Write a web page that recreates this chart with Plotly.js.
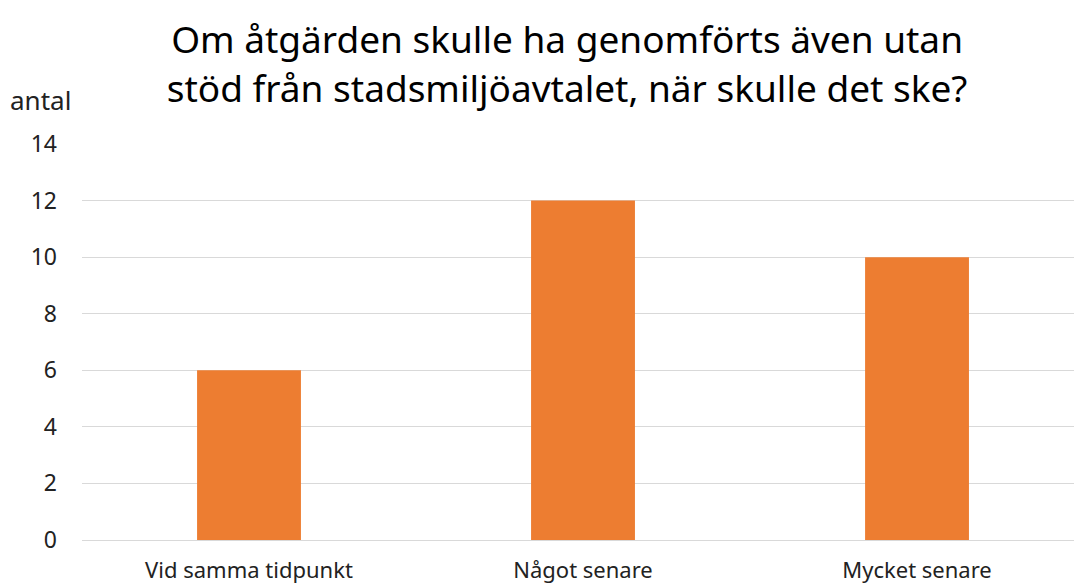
<!DOCTYPE html>
<html><head><meta charset="utf-8">
<script src="https://cdn.plot.ly/plotly-3.0.1.min.js"></script>
<style>html,body{margin:0;padding:0;background:#fff}#c{width:1074px;height:587px}</style>
</head><body><div id="c"></div>
<script>
const categories = ["Vid samma tidpunkt", "Något senare", "Mycket senare"];
const values = [6, 12, 10];
const yTicks = [0, 2, 4, 6, 8, 10, 12, 14];
const titleText = "Om åtgärden skulle ha genomförts även utan<br>stöd från stadsmiljöavtalet, när skulle det ske?";
const yLabel = "antal";

const font = "Noto Sans, Open Sans, sans-serif";
Plotly.newPlot("c", [{
  type: "bar",
  x: [0, 1, 2],
  y: values,
  marker: {color: "#ED7D31"},
  hoverinfo: "none"
}], {
  width: 1074, height: 587,
  margin: {l: 82, r: 0, t: 144, b: 47, pad: 0},
  paper_bgcolor: "#fff", plot_bgcolor: "#fff",
  bargap: 0.689,
  showlegend: false,
  title: {text: titleText, x: 0.528, xanchor: "center", y: 0.909, yanchor: "middle",
          font: {family: font, size: 37, color: "#000"}},
  xaxis: {range: [-0.5, 2.47], tickvals: [0, 1, 2], ticktext: categories,
          showgrid: false, zeroline: false, showline: false, ticks: "",
          tickfont: {family: font, size: 22, color: "#222"}, ticklabelstandoff: 15, fixedrange: true},
  yaxis: {range: [0, 14], tickvals: yTicks, showgrid: true, gridcolor: "#d9d9d9", gridwidth: 1,
          zeroline: true, zerolinecolor: "#d9d9d9", zerolinewidth: 1, showline: false, ticks: "",
          tickfont: {family: font, size: 23, color: "#222"}, ticklabelstandoff: 24, fixedrange: true},
  annotations: [{text: yLabel, xref: "paper", yref: "paper", x: -0.075, y: 1.11,
                 xanchor: "left", yanchor: "middle", showarrow: false,
                 font: {family: font, size: 26, color: "#222"}}]
}, {displayModeBar: false, staticPlot: true});
</script></body></html>
